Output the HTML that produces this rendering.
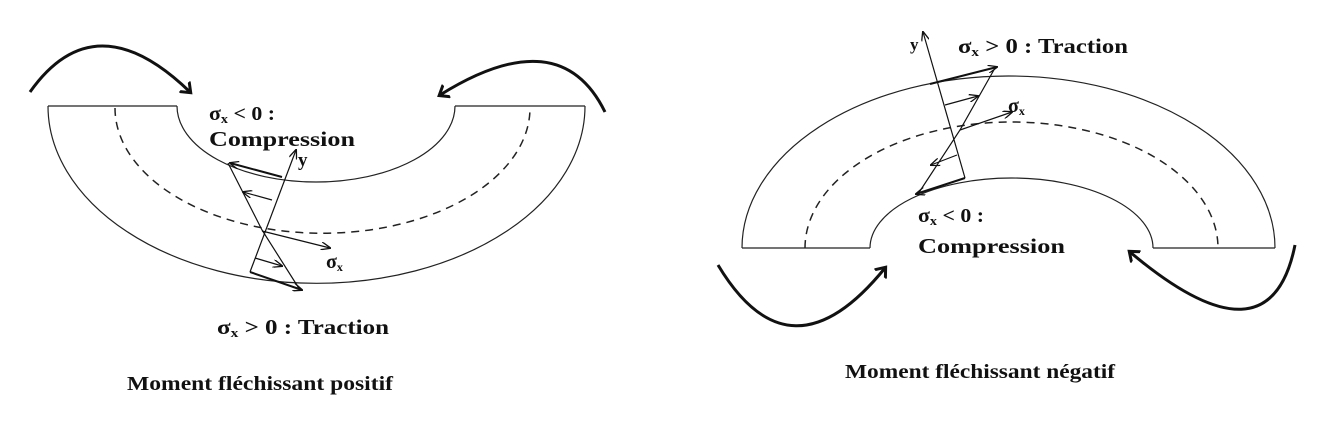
<!DOCTYPE html>
<html><head><meta charset="utf-8"><style>
html,body{margin:0;padding:0;background:#fff;}
svg{display:block;}
text{font-family:"Liberation Serif",serif;font-weight:bold;fill:#111;}
</style></head><body>
<svg width="1332" height="432" viewBox="0 0 1332 432">
<defs>
<marker id="ah" markerWidth="10" markerHeight="8" refX="9" refY="4" orient="auto" markerUnits="userSpaceOnUse"><path d="M0,0 L10,4 L0,8" fill="none" stroke="#111" stroke-width="1.3"/></marker>
<marker id="big" markerWidth="16" markerHeight="16" refX="8" refY="8" orient="auto" markerUnits="userSpaceOnUse"><path d="M0,1 L9,8 L0,15" fill="none" stroke="#111" stroke-width="3"/></marker>
</defs>
<g fill="none" stroke="#222" stroke-width="1.2">
<path d="M48,106 A268,177 0 0 0 585,106"/>
<path d="M177,106 A139,76 0 0 0 455,106"/>
<line x1="48" y1="106" x2="177" y2="106"/><line x1="455" y1="106" x2="585" y2="106"/>
<path d="M115,108 A207,125 0 0 0 530,108" stroke-dasharray="8,6" stroke-width="1.5"/>
<path d="M30,92 Q95,0 190,92" stroke="#111" stroke-width="3" marker-end="url(#big)"/>
<path d="M605,112 Q560,20 440,95" stroke="#111" stroke-width="3" marker-end="url(#big)"/>
<line x1="250" y1="272" x2="296" y2="150" stroke="#111" marker-end="url(#ah)"/>
<polyline points="228,163 262,230 300,290" stroke="#111"/>
<line x1="282" y1="177" x2="230" y2="163" stroke="#111" stroke-width="2" marker-end="url(#ah)"/>
<line x1="272" y1="200" x2="243" y2="192" stroke="#111" marker-end="url(#ah)"/>
<line x1="262" y1="231" x2="330" y2="248" stroke="#111" marker-end="url(#ah)"/>
<line x1="255" y1="258" x2="282" y2="266" stroke="#111" marker-end="url(#ah)"/>
<line x1="250" y1="272" x2="302" y2="290" stroke="#111" stroke-width="2" marker-end="url(#ah)"/>
</g>
<g>
<text x="209" y="120" font-size="20" textLength="66" lengthAdjust="spacingAndGlyphs">σ<tspan font-size="13" dy="3">x</tspan><tspan dy="-3"> &lt; 0 :</tspan></text>
<text x="209" y="146" font-size="21" textLength="146" lengthAdjust="spacingAndGlyphs">Compression</text>
<text x="298" y="166" font-size="19">y</text>
<text x="326" y="268" font-size="20">σ<tspan font-size="12" dy="3">x</tspan></text>
<text x="217" y="334" font-size="21" textLength="172" lengthAdjust="spacingAndGlyphs">σ<tspan font-size="13" dy="3">x</tspan><tspan dy="-3"> &gt; 0 : Traction</tspan></text>
<text x="127" y="390" font-size="20" textLength="266" lengthAdjust="spacingAndGlyphs">Moment fléchissant positif</text>
</g>
<g fill="none" stroke="#222" stroke-width="1.2">
<path d="M742,248 A266.5,172 0 0 1 1275,248"/>
<path d="M870,248 A141.5,70 0 0 1 1153,248"/>
<line x1="742" y1="248" x2="870" y2="248"/><line x1="1153" y1="248" x2="1275" y2="248"/>
<path d="M805,248 A206.5,126 0 0 1 1218,248" stroke-dasharray="8,6" stroke-width="1.5"/>
<path d="M718,265 Q790,385 885,268" stroke="#111" stroke-width="3" marker-end="url(#big)"/>
<path d="M1295,245 Q1270,370 1130,252" stroke="#111" stroke-width="3" marker-end="url(#big)"/>
<line x1="965" y1="178" x2="923" y2="32" stroke="#111" marker-end="url(#ah)"/>
<polyline points="995,68 960,130 918,194" stroke="#111"/>
<line x1="930" y1="84" x2="997" y2="67" stroke="#111" stroke-width="2" marker-end="url(#ah)"/>
<line x1="945" y1="105" x2="978" y2="96" stroke="#111" marker-end="url(#ah)"/>
<line x1="960" y1="130" x2="1012" y2="112" stroke="#111" marker-end="url(#ah)"/>
<line x1="957" y1="155" x2="931" y2="165" stroke="#111" marker-end="url(#ah)"/>
<line x1="965" y1="178" x2="916" y2="194" stroke="#111" stroke-width="2" marker-end="url(#ah)"/>
</g>
<g>
<text x="958" y="53" font-size="21" textLength="170" lengthAdjust="spacingAndGlyphs">σ<tspan font-size="13" dy="3">x</tspan><tspan dy="-3"> &gt; 0 : Traction</tspan></text>
<text x="910" y="50" font-size="17">y</text>
<text x="1008" y="112" font-size="20">σ<tspan font-size="12" dy="3">x</tspan></text>
<text x="918" y="222" font-size="20" textLength="66" lengthAdjust="spacingAndGlyphs">σ<tspan font-size="13" dy="3">x</tspan><tspan dy="-3"> &lt; 0 :</tspan></text>
<text x="918" y="253" font-size="21" textLength="147" lengthAdjust="spacingAndGlyphs">Compression</text>
<text x="845" y="378" font-size="20" textLength="270" lengthAdjust="spacingAndGlyphs">Moment fléchissant négatif</text>
</g>
</svg>
</body></html>
